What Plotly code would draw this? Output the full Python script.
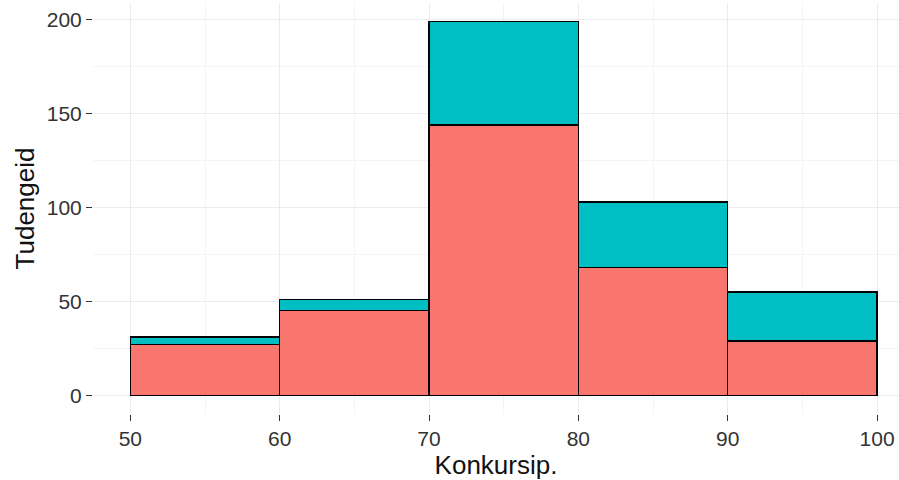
import plotly.graph_objects as go

# histogram bins (Konkursip.) and stacked counts
bin_starts = [50, 60, 70, 80, 90]
bin_width = 10
red_counts = [27, 45, 144, 68, 29]
teal_counts = [4, 6, 55, 35, 26]

x_ticks = [50, 60, 70, 80, 90, 100]
y_ticks = [0, 50, 100, 150, 200]

centers = [b + bin_width / 2 for b in bin_starts]

fig = go.Figure()
fig.add_trace(go.Bar(x=centers, y=red_counts, width=bin_width,
                     marker=dict(color="#F8766D", line=dict(color="black", width=1.3)),
                     name="a"))
fig.add_trace(go.Bar(x=centers, y=teal_counts, width=bin_width,
                     marker=dict(color="#00BFC4", line=dict(color="black", width=1.3)),
                     name="b"))

fig.update_layout(
    barmode="stack",
    showlegend=False,
    width=899, height=480,
    margin=dict(l=93, r=0, t=3, b=66),
    plot_bgcolor="white",
    paper_bgcolor="white",
    font=dict(family="Liberation Sans, Arial, sans-serif", size=21, color="#333333"),
)
fig.update_xaxes(
    range=[47.5, 101.47], tickvals=x_ticks, ticks="outside", ticklen=6, tickwidth=1,
    tickcolor="#333333", showgrid=True, gridcolor="#EBEBEB", gridwidth=1,
    minor=dict(dtick=5, tick0=45, showgrid=True, gridcolor="#F4F4F4", gridwidth=1),
    zeroline=False, showline=False, automargin=False,
    title=dict(text="Konkursip.", font=dict(size=26, color="#111111"), standoff=2),
)
fig.update_yaxes(
    range=[-9.95, 208.95], tickvals=y_ticks, ticks="outside", ticklen=6, tickwidth=1,
    tickcolor="#333333", showgrid=True, gridcolor="#EBEBEB", gridwidth=1,
    minor=dict(dtick=25, tick0=25, showgrid=True, gridcolor="#F4F4F4", gridwidth=1),
    zeroline=False, showline=False, automargin=False,
    title=dict(text="Tudengeid", font=dict(size=26, color="#111111"), standoff=4),
)

# drop the default page margin so the figure sits at the window origin
fig.write_html("out.html", config={"displayModeBar": False},
               post_script="document.body.style.margin='0';")
